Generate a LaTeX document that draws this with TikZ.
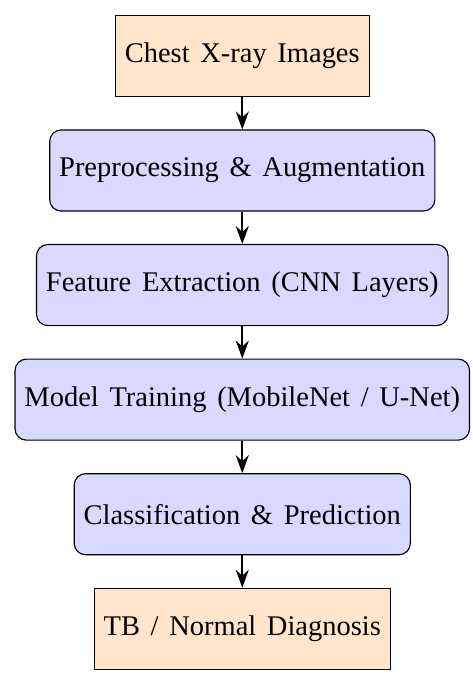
\documentclass[tikz,border=0pt]{standalone}
\usepackage{fontspec}
\setmainfont{Liberation Serif}[WordSpace=1.5]
\usetikzlibrary{positioning,arrows.meta}

\begin{document}
\begin{tikzpicture}[node distance=0.4cm,
  io/.style={rectangle, draw=black, fill=orange!20, minimum height=1cm},
  stage/.style={rectangle, rounded corners, draw=black, fill=blue!15, minimum height=1cm},
  flow/.style={thick, -{Stealth[length=2.2mm, width=1.6mm]}}]
\useasboundingbox (-2.99,0.69) rectangle (2.84,-7.69);
\node[io] (input) at (0,0) {Chest X-ray Images};
\node[stage, below=of input] (prep) {Preprocessing \& Augmentation};
\node[stage, below=of prep] (feat) {Feature Extraction (CNN Layers)};
\node[stage, below=of feat] (train) {Model Training (MobileNet / U-Net)};
\node[stage, below=of train] (pred) {Classification \& Prediction};
\node[io, below=of pred] (out) {TB / Normal Diagnosis};
\draw[flow] (input) -- (prep);
\draw[flow] (prep) -- (feat);
\draw[flow] (feat) -- (train);
\draw[flow] (train) -- (pred);
\draw[flow] (pred) -- (out);
\end{tikzpicture}
\end{document}
